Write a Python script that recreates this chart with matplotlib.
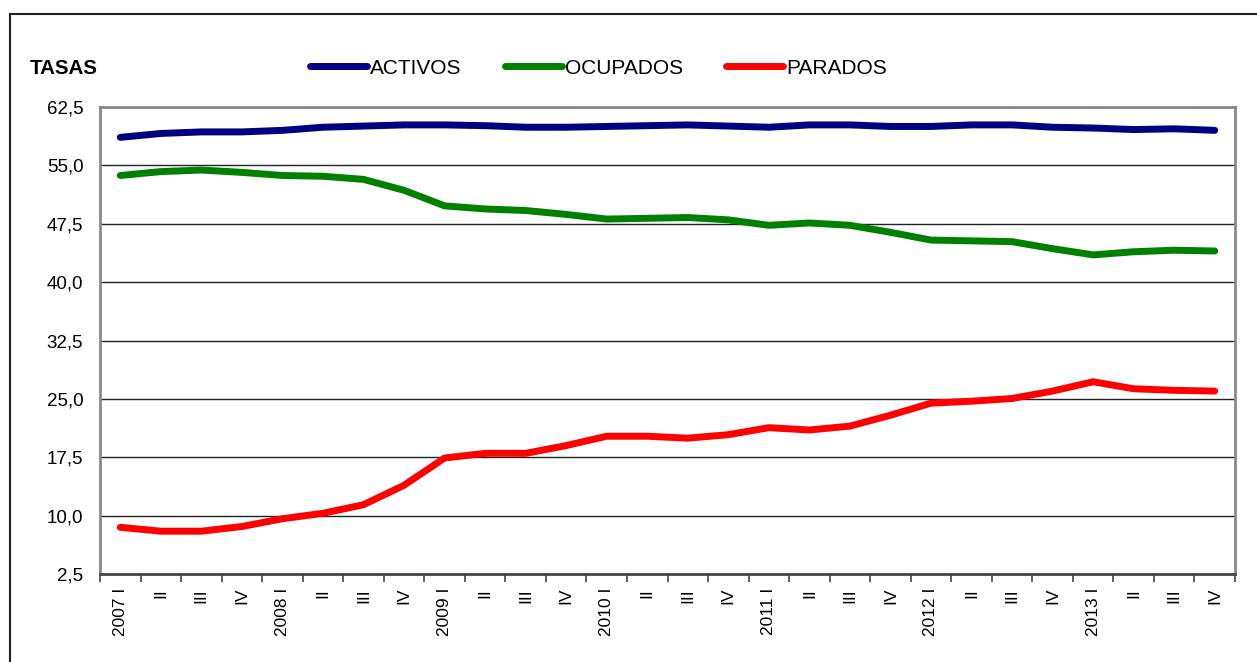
import numpy as np
import matplotlib
matplotlib.use("Agg")
import matplotlib.pyplot as plt
from matplotlib.lines import Line2D
from matplotlib.ticker import FixedLocator, NullFormatter

plt.rcParams["font.family"] = ["Liberation Sans", "DejaVu Sans"]

# ── Data ───────────────────────────────────────────────────
years = ["2007", "2008", "2009", "2010", "2011", "2012", "2013"]
quarters = ["I", "II", "III", "IV"]
tick_labels = [f"{y} {q}" if q == "I" else q for y in years for q in quarters]

activos = [58.6, 59.1, 59.3, 59.3, 59.5, 59.9, 60.05, 60.2, 60.2, 60.1, 59.9, 59.9, 60.0, 60.1,
           60.2, 60.05, 59.9, 60.2, 60.2, 60.0, 60.0, 60.2, 60.2, 59.9, 59.8, 59.6, 59.7, 59.5]
ocupados = [53.7, 54.2, 54.4, 54.1, 53.7, 53.6, 53.2, 51.8, 49.8, 49.4, 49.2, 48.7, 48.1, 48.2,
            48.3, 48.0, 47.3, 47.6, 47.3, 46.4, 45.4, 45.3, 45.2, 44.3, 43.5, 43.9, 44.1, 44.0]
parados = [8.5, 8.0, 8.0, 8.6, 9.6, 10.3, 11.4, 13.9, 17.4, 18.0, 18.0, 19.0, 20.2, 20.2,
           19.95, 20.4, 21.3, 21.0, 21.5, 22.9, 24.45, 24.7, 25.05, 26.0, 27.2, 26.3, 26.1, 26.0]

series_names = ["ACTIVOS", "OCUPADOS", "PARADOS"]
series_colors = ["#000080", "#008000", "#FF0000"]

y_ticks = [2.5, 10.0, 17.5, 25.0, 32.5, 40.0, 47.5, 55.0, 62.5]

# ── Figure ─────────────────────────────────────────────────
W, H = 1257, 662
fig = plt.figure(figsize=(W / 100, H / 100), dpi=100)
ax = fig.add_axes([100 / W, 1 - 574 / H, (1235 - 100) / W, (574 - 107) / H])

x = np.arange(len(tick_labels))
for vals, name, col in zip([activos, ocupados, parados], series_names, series_colors):
    ax.plot(x, vals, color=col, lw=5, label=name,
            solid_capstyle="round", solid_joinstyle="round", zorder=3)

ax.set_xlim(-0.5, len(tick_labels) - 0.5)
ax.set_ylim(y_ticks[0], y_ticks[-1])

# y axis
ax.set_yticks(y_ticks)
ax.set_yticklabels([f"{v:.1f}".replace(".", ",") for v in y_ticks], fontsize=13.5)
ax.tick_params(axis="y", length=0, pad=12)
ax.grid(axis="y", color="#222222", lw=1.0, zorder=1)

# x axis: labels at centres, ticks at boundaries
ax.set_xticks(x)
ax.set_xticklabels(tick_labels, rotation=90, fontsize=12.5)
ax.tick_params(axis="x", which="major", length=0, pad=10)
ax.xaxis.set_minor_locator(FixedLocator(np.arange(-0.5, len(tick_labels), 1.0)))
ax.xaxis.set_minor_formatter(NullFormatter())
ax.tick_params(axis="x", which="minor", length=6, width=1.2, color="#444444")

for side in ["left", "top", "right"]:
    ax.spines[side].set_color("#888888")
    ax.spines[side].set_linewidth(2)
ax.spines["bottom"].set_color("#444444")
ax.spines["bottom"].set_linewidth(2)

# title-ish label and legend
fig.text(30 / W, 1 - 68 / H, "TASAS", fontsize=14.8, fontweight="bold", va="center", ha="left")
ax.legend(loc="center left", bbox_to_anchor=(310 / W, 1 - 68 / H), bbox_transform=fig.transFigure,
          ncol=3, frameon=False, fontsize=15, handlelength=2.75, handletextpad=0.15,
          columnspacing=2.05, borderpad=0, borderaxespad=0)

# outer frame (runs off right and bottom)
fig.add_artist(Line2D([9.5 / W, 1.0], [1 - 14 / H, 1 - 14 / H], transform=fig.transFigure,
                      color="#222222", lw=1.5))
fig.add_artist(Line2D([9.5 / W, 9.5 / W], [0.0, 1 - 14 / H], transform=fig.transFigure,
                      color="#222222", lw=1.5))

fig.savefig("out.png", dpi=100)
